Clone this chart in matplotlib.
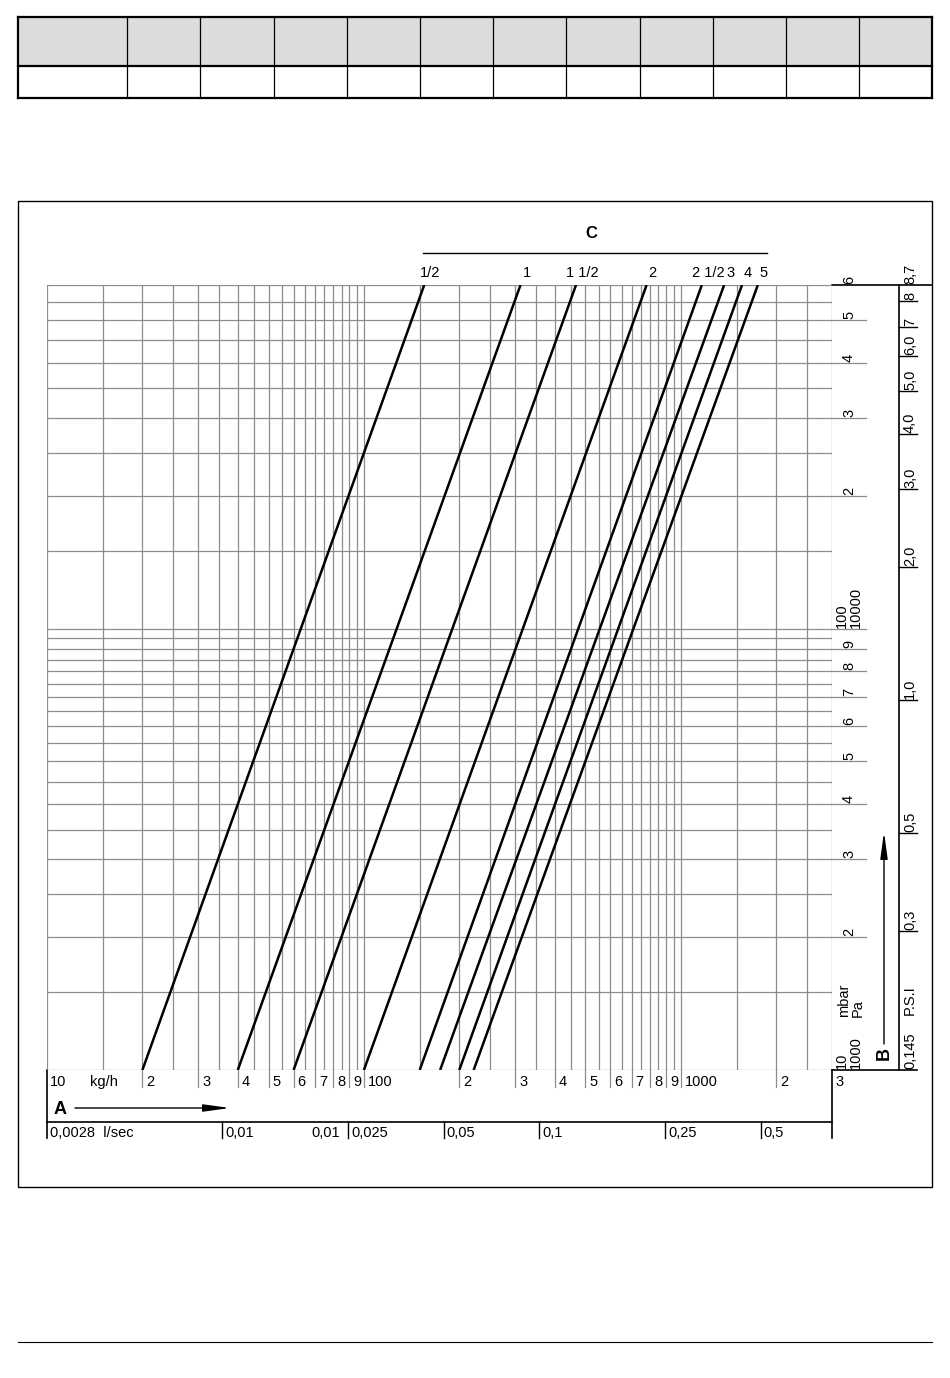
import numpy as np
import matplotlib
matplotlib.use("Agg")
import matplotlib.pyplot as plt
from matplotlib import transforms
from matplotlib.patches import Rectangle
from matplotlib.lines import Line2D

plt.rcParams['font.family'] = ['Liberation Sans', 'DejaVu Sans']
FS = 10.5

# pipe sizes (C) and flow (kg/h) read at 10 mbar and at 600 mbar
sizes = ["1/2", "1", "1 1/2", "2", "2 1/2", "3", "4", "5"]
flow_at_10 = [20, 40, 60, 100, 150, 174, 200, 222]
flow_at_600 = [155, 312, 467, 780, 1165, 1370, 1560, 1750]
dp_low, dp_high = 10, 600

# kg/h axis labels
kgh_ticks = [20, 30, 40, 50, 60, 70, 80, 90, 100, 200, 300, 400, 500, 600, 700, 800, 900, 1000, 2000]
kgh_labels = ["2", "3", "4", "5", "6", "7", "8", "9", "100", "2", "3", "4", "5", "6", "7", "8", "9", "1000", "2"]

# l/sec axis
ls_ticks = [0.0028, 0.01, 0.025, 0.05, 0.1, 0.25, 0.5]
ls_labels = ["0,0028  l/sec", "0,01", "0,025", "0,05", "0,1", "0,25", "0,5"]
kgh_per_ls = 10 / 0.0028

# mbar axis labels
mbar_ticks = [20, 30, 40, 50, 60, 70, 80, 90, 100, 200, 300, 400, 500, 600]
mbar_labels = ["2", "3", "4", "5", "6", "7", "8", "9", "100\n10000", "2", "3", "4", "5", "6"]

# P.S.I axis
psi_ticks = [8.7, 8, 7, 6.0, 5.0, 4.0, 3.0, 2.0, 1.0, 0.5, 0.3, 0.145]
psi_labels = ["8,7", "8", "7", "6,0", "5,0", "4,0", "3,0", "2,0", "1,0", "0,5", "0,3", "0,145"]
mbar_per_psi = 600 / 8.7

# top table
table_cols = [18, 127, 200, 274, 347, 420, 493, 566, 640, 713, 786, 859, 932]
table_rows = [17, 66, 98]

W, H = 950, 1378
fig = plt.figure(figsize=(W / 100, H / 100), dpi=100)
ov = fig.add_axes([0, 0, 1, 1])
ov.set_xlim(0, W)
ov.set_ylim(H, 0)
ov.axis('off')

L, R, T, B = 47, 832, 285, 1070
ax = fig.add_axes([L / W, 1 - B / H, (R - L) / W, (B - T) / H])
ax.set_xscale('log')
ax.set_yscale('log')
ax.set_xlim(10, 3000)
ax.set_ylim(dp_low, dp_high)

xg = np.concatenate([np.arange(10, 100, 5), np.arange(100, 1000, 50), np.arange(1000, 3001, 500)])
yg = np.concatenate([np.arange(10, 100, 5), np.arange(100, 601, 50)])
gcol = '#8c8c8c'
for v in xg:
    ax.axvline(v, color=gcol, lw=0.9, zorder=1)
for v in yg:
    ax.axhline(v, color=gcol, lw=0.9, zorder=1)
ax.set_xticks([])
ax.set_yticks([])
ax.minorticks_off()
for s in ax.spines.values():
    s.set_visible(False)
ax.patch.set_alpha(0)

# flow lines
for name, q1, q2 in zip(sizes, flow_at_10, flow_at_600):
    ax.plot([q1, q2], [dp_low, dp_high], color='black', lw=1.8, zorder=3, solid_capstyle='butt')
    ax.annotate(name, xy=(q2, dp_high), xytext=(6, 5), textcoords='offset pixels',
                ha='center', va='bottom', fontsize=FS, annotation_clip=False)

ov.text(591, 234, "C", ha='center', va='center', fontsize=12, fontweight='bold')
ov.plot([423, 767], [253, 253], color='black', lw=1)

# bottom kg/h row
bx = transforms.blended_transform_factory(ax.transData, ov.transData)
off_r4 = transforms.ScaledTranslation(4 / 100, 0, fig.dpi_scale_trans)
for v, lab in zip(kgh_ticks, kgh_labels):
    ov.add_line(Line2D([v, v], [B, B + 17], transform=bx, color=gcol, lw=0.9))
    ov.text(v, B + 12, lab, transform=bx + off_r4, ha='left', va='center', fontsize=FS)
ov.text(L + 3, B + 12, "10", ha='left', va='center', fontsize=FS)
ov.text(90, B + 12, "kg/h", ha='left', va='center', fontsize=FS)
ov.text(R + 3, B + 12, "3", ha='left', va='center', fontsize=FS)

# A arrow
ov.text(60, 1109, "A", ha='center', va='center', fontsize=13, fontweight='bold')
ov.annotate('', xy=(230, 1108), xytext=(75, 1108),
            arrowprops=dict(arrowstyle='-|>,head_length=1.6,head_width=0.22', color='black', lw=1,
                            shrinkA=0, shrinkB=0))

# box lines below plot
ov.plot([L, R], [1122, 1122], color='black', lw=1.2)
ov.plot([L, L], [B, 1138], color='black', lw=1.2)
ov.plot([R, R], [B, 1138], color='black', lw=1.2)

# l/sec row
off3 = transforms.ScaledTranslation(3 / 100, 0, fig.dpi_scale_trans)
offm8 = transforms.ScaledTranslation(-8 / 100, 0, fig.dpi_scale_trans)
for i, (v, lab) in enumerate(zip(ls_ticks, ls_labels)):
    xv = v * kgh_per_ls
    if i > 0:
        ov.add_line(Line2D([xv, xv], [1122, 1138], transform=bx, color='black', lw=1))
    ov.text(xv, 1133, lab, transform=bx + off3, ha='left', va='center', fontsize=FS)
# second 0,01 label, left of the 0,025 tick
ov.text(ls_ticks[2] * kgh_per_ls, 1133, ls_labels[1], transform=bx + offm8,
        ha='right', va='center', fontsize=FS)

# right side: mbar / Pa column
ry = transforms.blended_transform_factory(ov.transData, ax.transData)
up1 = transforms.ScaledTranslation(0, 1 / 100, fig.dpi_scale_trans)
for v, lab in zip(mbar_ticks, mbar_labels):
    if v < dp_high:
        ov.add_line(Line2D([R, 866], [v, v], transform=ry, color=gcol, lw=0.9))
    ov.text(849, v, lab, transform=ry + up1, rotation=90, ha='center', va='bottom',
            multialignment='left', fontsize=FS, linespacing=0.95)
ov.text(849, dp_low, "10\n1000", transform=ry + up1, rotation=90, ha='center', va='bottom',
        multialignment='left', fontsize=FS, linespacing=0.95)
ov.text(851, 1000, "mbar\nPa", rotation=90, ha='center', va='center',
        multialignment='left', fontsize=FS, linespacing=0.95)

# B arrow
ov.annotate('', xy=(884, 832), xytext=(884, 1044),
            arrowprops=dict(arrowstyle='-|>,head_length=1.6,head_width=0.22', color='black', lw=1,
                            shrinkA=0, shrinkB=0))
ov.text(884, 1054, "B", rotation=90, ha='center', va='center', fontsize=13, fontweight='bold')

# P.S.I column
ov.plot([R, 932], [T, T], color='black', lw=1.2)
ov.plot([899, 899], [T, B], color='black', lw=1.2)
ov.plot([R, 917], [B, B], color='black', lw=1.2)
for v, lab in zip(psi_ticks, psi_labels):
    mb = v * mbar_per_psi
    if dp_low < mb < dp_high * 0.99:
        ov.add_line(Line2D([899, 917], [mb, mb], transform=ry, color='black', lw=1))
    ov.text(910, mb, lab, transform=ry + up1, rotation=90, ha='center', va='bottom', fontsize=FS)
ov.text(910, 1000, "P.S.I", rotation=90, ha='center', va='center', fontsize=FS)

# outer frame
ov.add_patch(Rectangle((18, 201), 932 - 18, 1187 - 201, fill=False, ec='black', lw=1))

# top table
ov.add_patch(Rectangle((table_cols[0], table_rows[0]), table_cols[-1] - table_cols[0],
                       table_rows[1] - table_rows[0], fc='#dcdcdc', ec='none'))
for yv in table_rows:
    ov.plot([table_cols[0], table_cols[-1]], [yv, yv], color='black', lw=1.6)
for i, xv in enumerate(table_cols):
    lw = 1.6 if i in (0, len(table_cols) - 1) else 0.9
    ov.plot([xv, xv], [table_rows[0], table_rows[-1]], color='black', lw=lw)

# page footer line
ov.plot([18, 932], [1342, 1342], color='black', lw=0.8)

fig.savefig("out.png", dpi=100)
